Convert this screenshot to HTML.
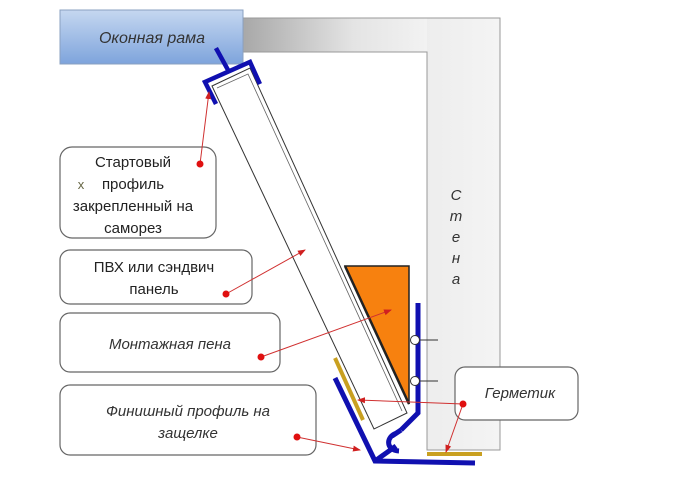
<!DOCTYPE html>
<html><head><meta charset="utf-8"><style>
html,body{margin:0;padding:0;background:#fff;}
</style></head><body>
<svg width="683" height="473" viewBox="0 0 683 473" xmlns="http://www.w3.org/2000/svg" font-family="Liberation Sans, sans-serif">
<defs>
<linearGradient id="wt" x1="0" y1="0" x2="1" y2="0">
<stop offset="0" stop-color="#a8a8a8"/><stop offset="0.6" stop-color="#e4e4e4"/><stop offset="1" stop-color="#f2f2f2"/></linearGradient>
<linearGradient id="wv" x1="0" y1="0" x2="1" y2="0">
<stop offset="0" stop-color="#dcdcdc"/><stop offset="1" stop-color="#f4f4f4"/></linearGradient>
<linearGradient id="fr" x1="0" y1="0" x2="0" y2="1">
<stop offset="0" stop-color="#c5d7f0"/><stop offset="1" stop-color="#7ea4dc"/></linearGradient>
<marker id="ar" markerWidth="8" markerHeight="8" refX="7" refY="4" orient="auto" markerUnits="userSpaceOnUse"><path d="M0,1 L8,4 L0,7z" fill="#d02020"/></marker>
</defs>
<path d="M243,18 H500 V450 H427 V52 H243 Z" fill="url(#wv)" stroke="#999" stroke-width="1"/>
<rect x="243" y="18" width="184" height="34" fill="url(#wt)"/>
<line x1="243" y1="18" x2="500" y2="18" stroke="#999"/>
<line x1="243" y1="52" x2="427" y2="52" stroke="#999"/>
<g font-style="italic" font-size="15" fill="#333" text-anchor="middle">
<text x="456" y="200">С</text><text x="456" y="221">т</text><text x="456" y="242">е</text><text x="456" y="263">н</text><text x="456" y="284">а</text>
</g>
<rect x="60" y="10" width="183" height="54" fill="url(#fr)" stroke="#8aa0c0"/>
<text x="152" y="43" font-size="16" font-style="italic" fill="#333" text-anchor="middle">Оконная рама</text>
<polygon points="212,86 250,68 407,413 374,429" fill="#fff" stroke="#333" stroke-width="1"/>
<polyline points="217,88 248,74 402,411" fill="none" stroke="#666" stroke-width="0.8"/>
<polygon points="345,266 409,266 409,404" fill="#f7810f" stroke="#222" stroke-width="1.5"/>
<line x1="345" y1="266" x2="409" y2="404" stroke="#222" stroke-width="2.5"/>
<g stroke="#1010b0" stroke-width="4.5" fill="none" stroke-linecap="square">
<polyline points="215,102 205,82 250,62 259,82"/>
<line x1="217" y1="50" x2="228" y2="70"/>
</g>
<line x1="335" y1="358" x2="363" y2="420" stroke="#c9a020" stroke-width="4"/>
<line x1="427" y1="454" x2="482" y2="454" stroke="#c9a020" stroke-width="4"/>
<g stroke="#1010b0" stroke-width="5" fill="none">
<polyline points="418,303 418,413 401,430"/>
<polyline points="335,378 375,461 475,463"/>
<line x1="375" y1="461" x2="396" y2="446"/>
<path d="M401,430 L392,436 M397,433 C386,436 385,450 399,451"/>
</g>
<line x1="415" y1="340" x2="438" y2="340" stroke="#333"/>
<line x1="415" y1="381" x2="438" y2="381" stroke="#333"/>
<circle cx="415" cy="340" r="4.5" fill="#fff" stroke="#333"/>
<circle cx="415" cy="381" r="4.5" fill="#fff" stroke="#333"/>
<g fill="#fff" stroke="#666" stroke-width="1.2">
<rect x="60" y="147" width="156" height="91" rx="12"/>
<rect x="60" y="250" width="192" height="54" rx="10"/>
<rect x="60" y="313" width="220" height="59" rx="10"/>
<rect x="60" y="385" width="256" height="70" rx="10"/>
<rect x="455" y="367" width="123" height="53" rx="10"/>
</g>
<g font-size="15" fill="#222" text-anchor="middle">
<text x="133" y="167">Стартовый</text>
<text x="133" y="189">профиль</text>
<text x="133" y="211">закрепленный на</text>
<text x="133" y="233">саморез</text>
<text x="81" y="189" font-size="13" fill="#664">x</text>
<text x="154" y="272">ПВХ или сэндвич</text>
<text x="154" y="294">панель</text>
</g>
<g font-size="15" fill="#333" text-anchor="middle" font-style="italic">
<text x="170" y="349">Монтажная пена</text>
<text x="188" y="416">Финишный профиль на</text>
<text x="188" y="438">защелке</text>
<text x="520" y="398">Герметик</text>
</g>
<g stroke="#d03030" stroke-width="1" fill="none" marker-end="url(#ar)">
<line x1="200" y1="164" x2="209" y2="92"/>
<line x1="226" y1="294" x2="305" y2="250"/>
<line x1="261" y1="357" x2="391" y2="310"/>
<line x1="297" y1="437" x2="360" y2="450"/>
<line x1="463" y1="404" x2="358" y2="400"/>
<line x1="463" y1="404" x2="446" y2="452"/>
</g>
<g fill="#e01010">
<circle cx="200" cy="164" r="3.5"/><circle cx="226" cy="294" r="3.5"/><circle cx="261" cy="357" r="3.5"/><circle cx="297" cy="437" r="3.5"/><circle cx="463" cy="404" r="3.5"/>
</g>
</svg>
</body></html>
